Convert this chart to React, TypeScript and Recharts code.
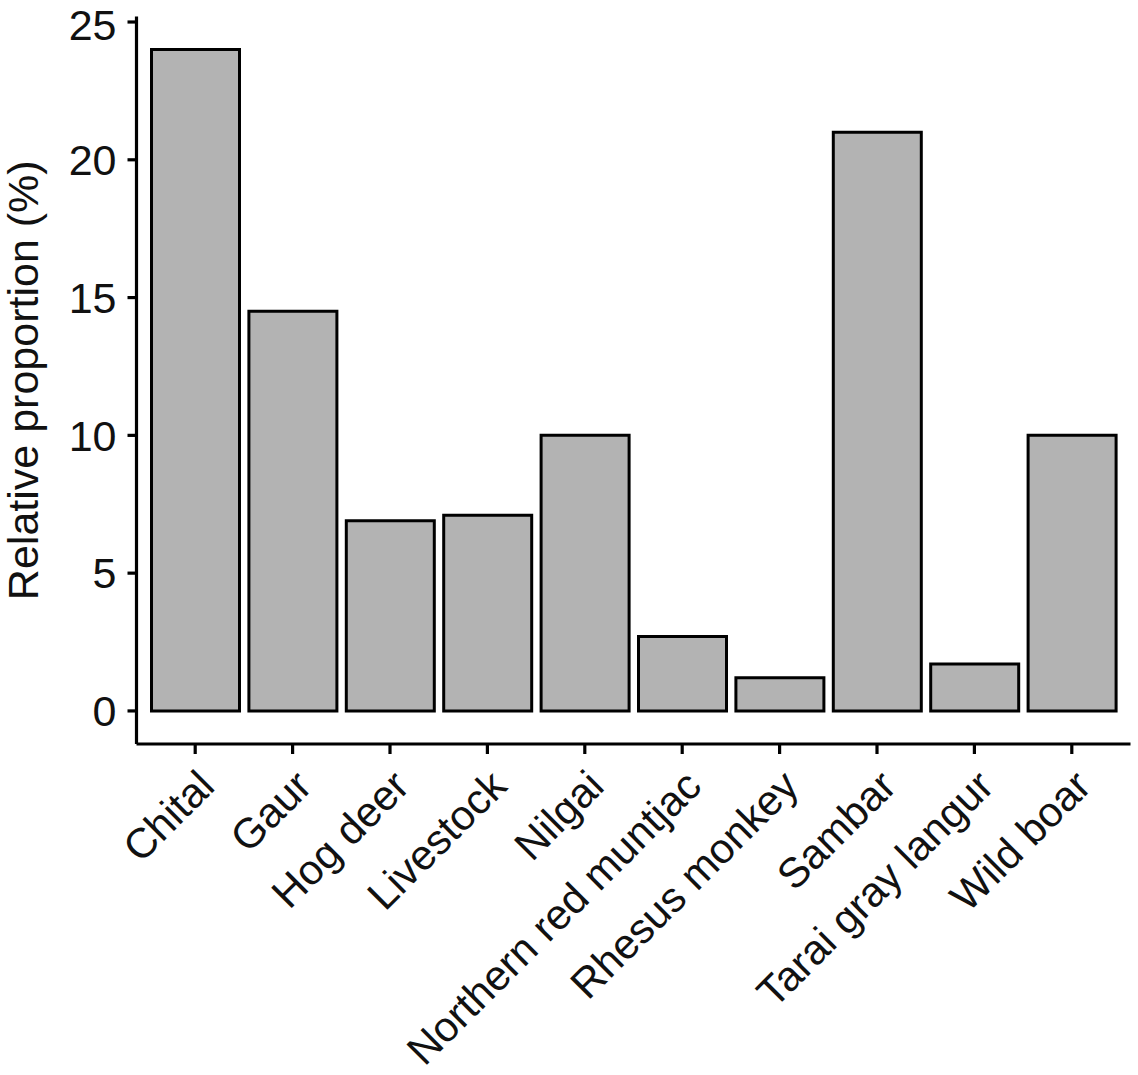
import React from 'react';
import { BarChart, Bar, XAxis, YAxis, Label } from 'recharts';

const categories = [
  'Chital',
  'Gaur',
  'Hog deer',
  'Livestock',
  'Nilgai',
  'Northern red muntjac',
  'Rhesus monkey',
  'Sambar',
  'Tarai gray langur',
  'Wild boar',
];
const proportions = [24, 14.5, 6.9, 7.1, 10, 2.7, 1.2, 21, 1.7, 10];
const yTicks = [0, 5, 10, 15, 20, 25];
const yDomain = [-1.2, 25.2];
const yTitle = 'Relative proportion (%)';

const data = categories.map((c, i) => ({ name: c, value: proportions[i] }));

const FONT = '"Liberation Sans", Arial, Helvetica, sans-serif';
const FS = 43;
const XFS = 42;
const TXT = '#111';

function XTick(props: any) {
  const { x, y, payload } = props;
  return (
    <text
      x={x}
      y={y}
      dy="0.72em"
      textAnchor="end"
      transform={`rotate(-45, ${x}, ${y})`}
      fontSize={XFS}
      fontFamily={FONT}
      fill={TXT}
    >
      {payload.value}
    </text>
  );
}

function YTitle(props: any) {
  const vb = props.viewBox || { x: 0, y: 16.5, width: 136.5, height: 727.5 };
  const cy = vb.y + vb.height / 2;
  const cx = 38;
  return (
    <text
      x={cx}
      y={cy}
      textAnchor="middle"
      transform={`rotate(-90, ${cx}, ${cy})`}
      fontSize={FS}
      fontFamily={FONT}
      fill={TXT}
    >
      {yTitle}
    </text>
  );
}

export default function App() {
  return (
    <div style={{ position: 'absolute', left: 0, top: 0, width: 1138, height: 1075, background: '#fff' }}>
      <BarChart
        width={1138}
        height={1075}
        data={data}
        margin={{ top: 16.5, right: 7.5, left: 0, bottom: 0 }}
      >
        <XAxis
          dataKey="name"
          interval={0}
          height={331}
          padding={{ left: 10, right: 10 }}
          tickSize={10}
          tickMargin={13}
          tick={<XTick />}
          axisLine={{ stroke: '#000', strokeWidth: 3.2 }}
          tickLine={{ stroke: '#000', strokeWidth: 3.2 }}
        />
        <YAxis
          width={136.5}
          domain={yDomain}
          ticks={yTicks}
          type="number"
          allowDataOverflow
          tickSize={9}
          tickMargin={11}
          tick={{ fontSize: FS, fontFamily: FONT, fill: TXT }}
          axisLine={{ stroke: '#000', strokeWidth: 3.2 }}
          tickLine={{ stroke: '#000', strokeWidth: 3.2 }}
        >
          <Label content={<YTitle />} />
        </YAxis>
        <Bar
          dataKey="value"
          fill="#b3b3b3"
          stroke="#000"
          strokeWidth={3}
          barSize={88}
          isAnimationActive={false}
        />
      </BarChart>
    </div>
  );
}
